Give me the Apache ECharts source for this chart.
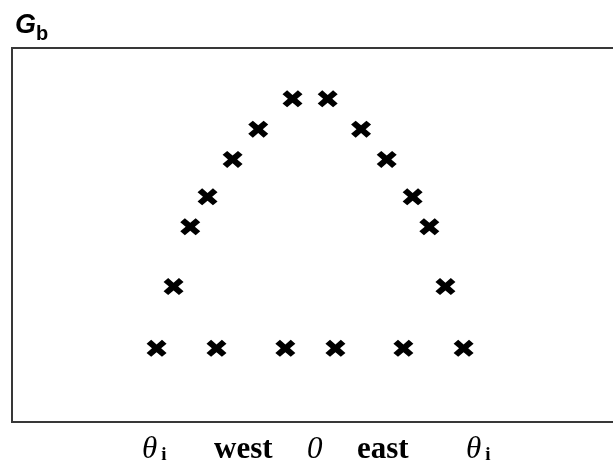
<!DOCTYPE html>
<html>
<head>
<meta charset="utf-8">
<script src="https://cdn.jsdelivr.net/npm/echarts@6/dist/echarts.min.js"></script>
<style>
html,body{margin:0;padding:0;background:#fff;}
#c{width:613px;height:468px;}
</style>
</head>
<body>
<div id="c"></div>
<script>
// Horizontal position (west negative, east positive), arbitrary units
const xs = [-51.5, -31.4, -8.3, 8.5, 31.3, 51.5,
            -45.8, -40.2, -34.4, -26.0, -17.4, -5.9,
             5.9, 17.1, 25.7, 34.4, 40.0, 45.4];
// Gb values, arbitrary units
const ys = [19.7, 19.7, 19.7, 19.7, 19.7, 19.7,
            36.2, 52.2, 60.2, 70.2, 78.3, 86.4,
            86.4, 78.3, 70.2, 60.2, 52.2, 36.2];
const bottomLabels = ['θ_i', 'west', '0', 'east', 'θ_i'];

const points = xs.map((x, i) => [x, ys[i]]);
const crossPath = 'path://M0,2.3 L2.3,0 L5,2.7 L7.7,0 L10,2.3 L7.3,5 L10,7.7 L7.7,10 L5,7.3 L2.3,10 L0,7.7 L2.7,5 Z';

const chart = echarts.init(document.getElementById('c'));
const serif = 'Liberation Serif';
function richLabel(t) {
  if (t === 'θ_i') return '{th|θ}{sub|i}';
  if (t === '0') return '{it|0}';
  return '{b|' + t + '}';
}
const labelX = [142, 214, 307, 357, 466];
chart.setOption({
  animation: false,
  grid: { left: 12, top: 48, width: 626, height: 374, outerBoundsMode: 'none', containLabel: false, show: true, borderColor: '#383838', borderWidth: 2, backgroundColor: 'transparent' },
  xAxis: { type: 'value', min: -100, max: 110, show: false },
  yAxis: { type: 'value', min: 0, max: 100, show: false },
  series: [{
    type: 'scatter',
    data: points,
    symbol: crossPath,
    symbolSize: [20, 17],
    itemStyle: { color: '#000', opacity: 1 }
  }],
  graphic: [
    {
      type: 'text', left: 15, top: 12,
      style: {
        text: '{g|G}{s|b}',
        rich: {
          g: { fontFamily: 'Liberation Sans', fontWeight: 'bold', fontStyle: 'italic', fontSize: 27, fill: '#000', verticalAlign: 'bottom', padding: [0, 0, 5, 0] },
          s: { fontFamily: 'Liberation Sans', fontWeight: 'bold', fontSize: 20, fill: '#000', verticalAlign: 'bottom' }
        }
      }
    }
  ].concat(bottomLabels.map((t, i) => ({
    type: 'text', left: labelX[i], top: 434,
    style: {
      text: richLabel(t),
      rich: {
        th: { fontFamily: serif, fontStyle: 'italic', fontSize: 31, fill: '#000' },
        sub: { fontFamily: serif, fontWeight: 'bold', fontSize: 19, fill: '#000', padding: [11, 0, 0, 4] },
        it: { fontFamily: serif, fontStyle: 'italic', fontSize: 31, fill: '#000' },
        b: { fontFamily: serif, fontWeight: 'bold', fontSize: 31, fill: '#000' }
      }
    }
  })))
});
</script>
</body>
</html>
